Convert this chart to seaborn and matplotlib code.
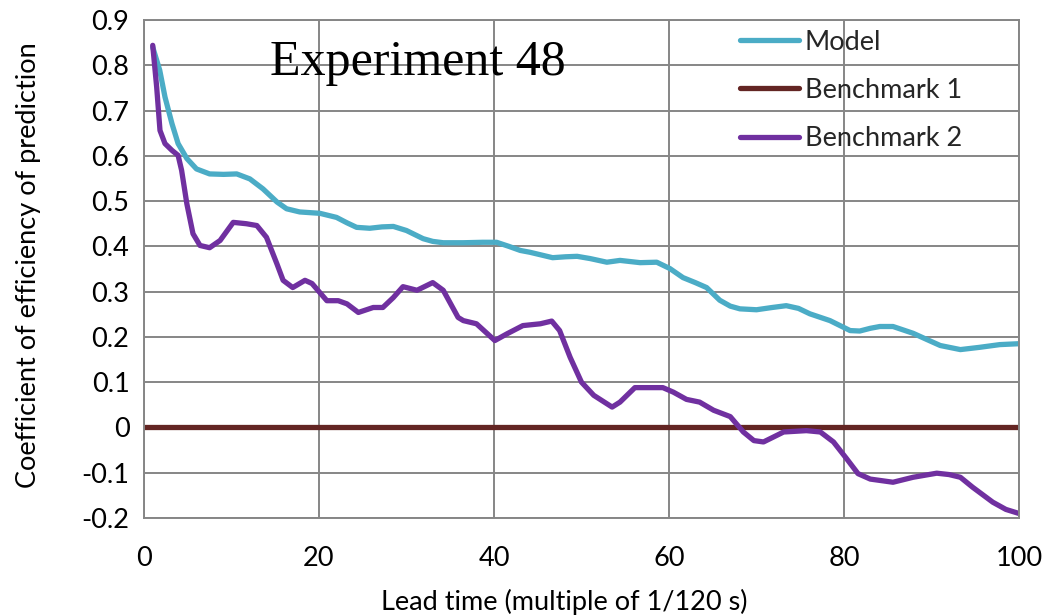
import matplotlib
matplotlib.use("Agg")
import matplotlib.pyplot as plt
import seaborn as sns
import pandas as pd
from matplotlib.lines import Line2D

# Lead time (multiples of 1/120 s) and coefficient of efficiency per series
model_x = [1, 1.8, 2.4, 3.2, 3.9, 4.9, 6.0, 7.5, 9.1, 10.6, 12.1, 13.6, 15.2, 16.3,
           17.8, 20.1, 22, 23.2, 24.3, 25.8, 27.2, 28.5, 30, 31.9, 33, 34.2, 36.5,
           38.7, 40.3, 41.7, 43, 44.1, 46.7, 48.2, 49.5, 51, 52.9, 54.4, 56.7,
           58.6, 60.1, 61.6, 63, 64.3, 65.8, 67, 68.1, 70, 71.8, 73.4, 74.8, 76.1,
           78.4, 80.7, 81.8, 83, 84.1, 85.6, 87.9, 89.5, 91, 93.3, 95.5, 97.8, 100]
model_y = [0.840, 0.789, 0.730, 0.671, 0.627, 0.594, 0.571, 0.560, 0.559, 0.560,
           0.549, 0.527, 0.498, 0.483, 0.476, 0.473, 0.464, 0.452, 0.442, 0.440,
           0.443, 0.444, 0.435, 0.417, 0.411, 0.408, 0.408, 0.409, 0.409, 0.400,
           0.391, 0.387, 0.375, 0.377, 0.378, 0.373, 0.365, 0.369, 0.364, 0.365,
           0.351, 0.331, 0.320, 0.309, 0.281, 0.268, 0.262, 0.260, 0.265, 0.269,
           0.263, 0.251, 0.236, 0.214, 0.213, 0.219, 0.223, 0.223, 0.208, 0.194,
           0.181, 0.172, 0.177, 0.183, 0.185]

bench1_x = [0, 100]
bench1_y = [0.0, 0.0]

bench2_x = [1, 1.45, 1.83, 2.4, 3.2, 3.9, 4.3, 4.9, 5.6, 6.4, 7.5, 8.7, 10.2, 11.7,
            12.9, 14.0, 15.2, 15.9, 17, 18.4, 19.2, 20.9, 22.2, 23.2, 24.5, 26.2,
            27.3, 28.5, 29.6, 31.2, 33, 34.2, 35.9, 36.5, 38, 40.1, 41.5, 43.3,
            45.3, 46.6, 47.5, 48.7, 50.0, 51.4, 53.5, 54.4, 56.1, 57.8, 59.3, 60.5,
            62.0, 63.5, 65.1, 67.0, 68.5, 69.7, 70.8, 73.1, 75.7, 77.3, 78.8, 80.3,
            81.6, 83, 85.6, 87.9, 90.6, 92, 93.3, 94.7, 97, 98.5, 100]
bench2_y = [0.844, 0.752, 0.656, 0.627, 0.612, 0.601, 0.568, 0.494, 0.428, 0.402,
            0.397, 0.413, 0.453, 0.450, 0.446, 0.420, 0.361, 0.325, 0.309, 0.325,
            0.318, 0.280, 0.280, 0.273, 0.254, 0.265, 0.265, 0.287, 0.311, 0.303,
            0.320, 0.303, 0.243, 0.236, 0.229, 0.192, 0.207, 0.225, 0.229, 0.235,
            0.214, 0.155, 0.100, 0.071, 0.045, 0.056, 0.088, 0.088, 0.088, 0.078,
            0.062, 0.056, 0.038, 0.024, -0.010, -0.029, -0.032, -0.010, -0.007,
            -0.010, -0.032, -0.069, -0.102, -0.114, -0.121, -0.110, -0.101, -0.104,
            -0.110, -0.132, -0.165, -0.181, -0.190]

series_names = ["Model", "Benchmark 1", "Benchmark 2"]
series_colors = ["#4BACC6", "#632523", "#7030A0"]
x_ticks = [0, 20, 40, 60, 80, 100]
y_ticks = [-0.2, -0.1, 0, 0.1, 0.2, 0.3, 0.4, 0.5, 0.6, 0.7, 0.8, 0.9]

frames = []
for name, xs, ys in zip(series_names,
                        [model_x, bench1_x, bench2_x],
                        [model_y, bench1_y, bench2_y]):
    frames.append(pd.DataFrame({"lead": xs, "ce": ys, "series": name}))
df = pd.concat(frames, ignore_index=True)

sns.set_theme(style="white")
plt.rcParams["font.family"] = ["Lato", "DejaVu Sans"]

grid_col = "#868686"
fs = 19.5
fig = plt.figure(figsize=(10.54, 6.15), dpi=100)
ax = fig.add_axes([0.1366, 0.1577, 0.8302, 0.8098])

sns.lineplot(data=df, x="lead", y="ce", hue="series", hue_order=series_names,
             palette=series_colors, sort=False, estimator=None, lw=3.8,
             legend=False, ax=ax)
for ln in ax.lines:
    ln.set_solid_capstyle("round")
    ln.set_solid_joinstyle("round")

ax.set_xlim(0, 100)
ax.set_ylim(-0.2, 0.9)
ax.set_xticks(x_ticks)
ax.set_yticks(y_ticks)
ax.set_xticklabels([str(v) for v in x_ticks])
ax.set_yticklabels(["0" if v == 0 else f"{v:g}" for v in y_ticks])
ax.grid(True, color=grid_col, lw=1.4)
ax.set_axisbelow(True)
for sp in ax.spines.values():
    sp.set_visible(True)
    sp.set_color(grid_col)
    sp.set_linewidth(1.4)
ax.tick_params(axis="both", which="major", direction="out", length=6.5,
               width=1.4, color=grid_col, labelsize=fs, labelcolor="black")
ax.tick_params(axis="y", pad=4)
ax.tick_params(axis="x", pad=14)

ax.set_xlabel("Lead time (multiple of 1/120 s)", fontsize=fs, color="black")
ax.set_ylabel("Coefficient of efficiency of prediction", fontsize=fs, color="black")
ax.xaxis.set_label_coords(0.48, -0.142)
ax.yaxis.set_label_coords(-0.118, 0.508)

ax.text(14.4, 0.778, "Experiment 48", family=["Liberation Serif", "DejaVu Serif"],
        fontsize=36, va="baseline", ha="left", color="black")

handles = [Line2D([], [], color=c, lw=3.8, solid_capstyle="round")
           for c in series_colors]
ax.legend(handles, series_names, loc="upper left",
          bbox_to_anchor=(0.702, 0.952), bbox_transform=fig.transFigure,
          frameon=False, fontsize=fs, borderpad=0, borderaxespad=0,
          handlelength=2.2, handletextpad=0.2, labelspacing=0.86)

fig.savefig("out.png", dpi=100)
